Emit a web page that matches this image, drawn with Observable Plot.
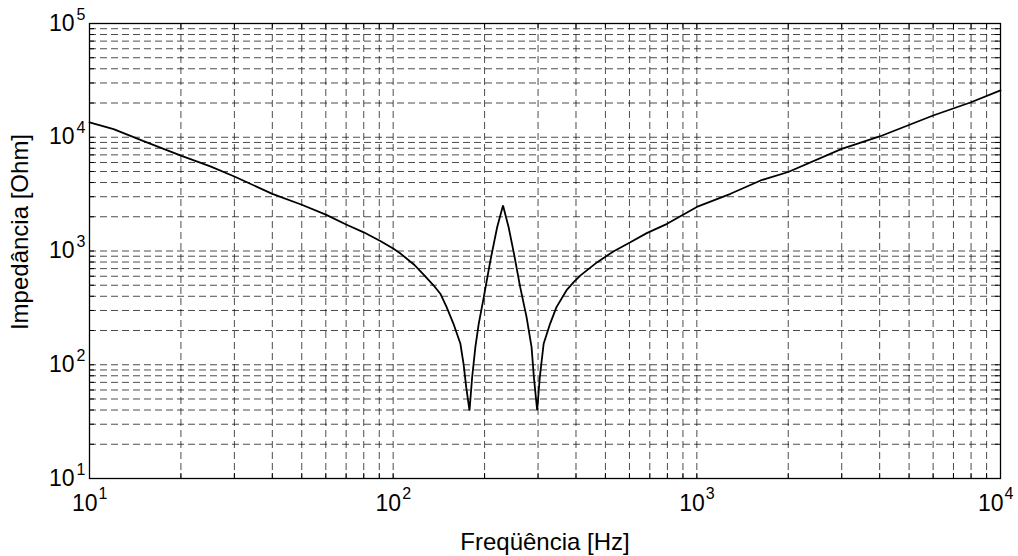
<!DOCTYPE html>
<html>
<head>
<meta charset="utf-8">
<script src="https://cdn.jsdelivr.net/npm/d3@7"></script>
<script src="https://cdn.jsdelivr.net/npm/@observablehq/plot@0.6"></script>
<style>
  html, body { margin: 0; padding: 0; background: #fff; }
  #chart svg { display: block; font-family: "Liberation Sans", Arial, sans-serif; }
</style>
</head>
<body>
<div id="chart"></div>
<script>
// Frequency [Hz] and impedance [Ohm]
const freq = [10, 12, 15, 20, 25, 30, 40, 50, 60, 70, 80, 91, 100, 106, 117, 126, 136, 143, 150, 158,
  166.5, 170.5, 174, 178.4, 182, 186.5, 191.3, 198.8, 209, 220, 230, 240, 250, 262, 275, 285.6, 290.7, 298,
  304, 313, 328.6, 345, 372, 393, 414, 470, 531, 604, 684, 798, 1000, 1291, 1622, 2000, 3000, 4000,
  6000, 8000, 10000];
const impedance = [13500, 11800, 9300, 6900, 5550, 4520, 3180, 2550, 2090, 1710, 1460, 1219, 1050, 944, 761, 621, 497, 421, 321, 229,
  153, 102, 63.5, 39.6, 77.6, 143, 229, 393, 824, 1618, 2513, 1618, 944, 481, 262, 143, 77.6, 39.6,
  77.6, 153, 229, 321, 450, 532, 610, 798, 990, 1194, 1435, 1734, 2440, 3183, 4170, 4950, 7910, 10160,
  15530, 20300, 25800];

// Axis tick values and labels
const xDecades = [10, 100, 1000, 10000];
const xExponents = ["1", "2", "3", "4"];
const yDecades = [10, 100, 1000, 10000, 100000];
const yExponents = ["1", "2", "3", "4", "5"];
const minorMultipliers = [1, 2, 3, 4, 5, 6, 7, 8, 9];
const xTitle = "Freqüência [Hz]";
const yTitle = "Impedância [Ohm]";

const data = freq.map((f, i) => ({f, z: impedance[i]}));
const xGrid = xDecades.slice(0, -1).flatMap(d => minorMultipliers.map(m => d * m)).concat([xDecades[xDecades.length - 1]]);
const yGrid = yDecades.slice(0, -1).flatMap(d => minorMultipliers.map(m => d * m)).concat([yDecades[yDecades.length - 1]]);

const W = 1018, H = 556;
const mL = 89, mR = 18, mT = 23, mB = 78;
const frameW = W - mL - mR, frameH = H - mT - mB;
const tickLen = 5;
const gridStyle = {stroke: "#000", strokeOpacity: 0.7, strokeWidth: 1, strokeDasharray: "7,4"};

// x tick labels: the last one is nudged left to stay inside the figure
const xLabelIdx = xDecades.map((d, i) => i);
const xInner = xLabelIdx.slice(0, -1);
const xLast = xLabelIdx.slice(-1);

const chart = Plot.plot({
  width: W,
  height: H,
  marginLeft: mL,
  marginRight: mR,
  marginTop: mT,
  marginBottom: mB,
  style: {fontFamily: "'Liberation Sans', Arial, sans-serif", background: "#fff", color: "#000"},
  x: {type: "log", domain: [10, 10000], axis: null},
  y: {type: "log", domain: [10, 100000], axis: null},
  marks: [
    // dashed grid
    Plot.ruleX(xGrid, {x: d => d, ...gridStyle}),
    Plot.ruleY(yGrid, {y: d => d, ...gridStyle}),
    // inward tick marks on all four sides
    Plot.ruleX(xGrid, {x: d => d, stroke: "#000", insetTop: frameH - tickLen}),
    Plot.ruleX(xGrid, {x: d => d, stroke: "#000", insetBottom: frameH - tickLen}),
    Plot.ruleY(yGrid, {y: d => d, stroke: "#000", insetRight: frameW - tickLen}),
    Plot.ruleY(yGrid, {y: d => d, stroke: "#000", insetLeft: frameW - tickLen}),
    // box
    Plot.frame({stroke: "#000", strokeWidth: 1.3}),
    // curve
    Plot.line(data, {x: "f", y: "z", stroke: "#000", strokeWidth: 1.8, strokeLinejoin: "miter"}),
    // x tick labels 10^n
    Plot.text(xInner, {x: i => xDecades[i], text: () => "10", frameAnchor: "bottom", textAnchor: "end", lineAnchor: "bottom", dx: 8, dy: 32, fontSize: 23, fill: "#000"}),
    Plot.text(xInner, {x: i => xDecades[i], text: i => xExponents[i], frameAnchor: "bottom", textAnchor: "start", lineAnchor: "bottom", dx: 9, dy: 20, fontSize: 16, fill: "#000"}),
    Plot.text(xLast, {x: i => xDecades[i], text: () => "10", frameAnchor: "bottom", textAnchor: "end", lineAnchor: "bottom", dx: 3, dy: 32, fontSize: 23, fill: "#000"}),
    Plot.text(xLast, {x: i => xDecades[i], text: i => xExponents[i], frameAnchor: "bottom", textAnchor: "start", lineAnchor: "bottom", dx: 4, dy: 20, fontSize: 16, fill: "#000"}),
    // y tick labels 10^n
    Plot.text(yDecades, {y: d => d, text: () => "10", frameAnchor: "left", textAnchor: "end", lineAnchor: "bottom", dx: -15, dy: 7, fontSize: 23, fill: "#000"}),
    Plot.text(yDecades, {y: d => d, text: (d, i) => yExponents[i], frameAnchor: "left", textAnchor: "end", lineAnchor: "bottom", dx: -4, dy: -4, fontSize: 16, fill: "#000"}),
    // axis titles
    Plot.text([xTitle], {text: d => d, frameAnchor: "bottom", textAnchor: "middle", lineAnchor: "bottom", dy: 71, fontSize: 24, fill: "#000"}),
    Plot.text([yTitle], {text: d => d, frameAnchor: "left", textAnchor: "middle", lineAnchor: "bottom", rotate: -90, dx: -62, dy: -19, fontSize: 24, fill: "#000"})
  ]
});
document.getElementById("chart").appendChild(chart);
</script>
</body>
</html>
